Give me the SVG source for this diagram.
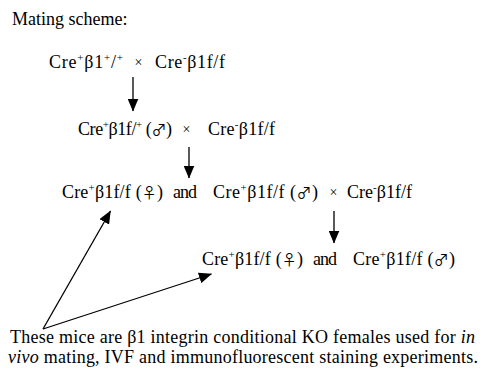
<svg xmlns="http://www.w3.org/2000/svg" width="481" height="377" viewBox="0 0 481 377">
  <defs>
    <style>
      .t{font-family:"Liberation Serif","Times New Roman",serif;font-size:18px;fill:#000}
      .x{font-family:"Liberation Serif","Times New Roman",serif;font-size:14px;fill:#000;text-anchor:middle}
      .sup{font-size:11px}
      .sym{font-family:"Noto Sans CJK JP","DejaVu Sans",sans-serif;font-size:15px}
      .conn line{stroke:#000;stroke-width:1.3;fill:none}
    </style>
    <marker id="head" viewBox="0 0 13 11" refX="12.5" refY="5.5" markerWidth="13" markerHeight="11" markerUnits="userSpaceOnUse" orient="auto">
      <path d="M0,0 L13,5.5 L0,11 z" fill="#000"/>
    </marker>
  </defs>
  <rect width="481" height="377" fill="#fff"/>

  <g id="title">
    <text class="t" x="12" y="25">Mating scheme:</text>
  </g>

  <!-- first cross -->
  <g id="gen1">
    <text class="t" x="49" y="68" textLength="74" lengthAdjust="spacing">Cre<tspan class="sup" dy="-7">+</tspan><tspan dy="7">β1</tspan><tspan class="sup" dy="-7">+</tspan><tspan dy="7">/</tspan><tspan class="sup" dy="-7">+</tspan></text>
    <text class="x" x="138.5" y="67">×</text>
    <text class="t" x="155" y="68" textLength="70" lengthAdjust="spacing">Cre<tspan class="sup" dy="-7">-</tspan><tspan dy="7">β1f/f</tspan></text>
  </g>

  <!-- second cross -->
  <g id="gen2">
    <text class="t" x="78" y="135" textLength="94" lengthAdjust="spacing">Cre<tspan class="sup" dy="-7">+</tspan><tspan dy="7">β1f/</tspan><tspan class="sup" dy="-7">+</tspan><tspan dy="7"> (</tspan><tspan class="sym">♂</tspan>)</text>
    <text class="x" x="186.5" y="134">×</text>
    <text class="t" x="208" y="135" textLength="67" lengthAdjust="spacing">Cre<tspan class="sup" dy="-7">-</tspan><tspan dy="7">β1f/f</tspan></text>
  </g>

  <!-- third cross -->
  <g id="gen3">
    <text class="t" x="62" y="198" textLength="101" lengthAdjust="spacing">Cre<tspan class="sup" dy="-7">+</tspan><tspan dy="7">β1f/f (</tspan><tspan class="sym">♀</tspan>)</text>
    <text class="t" x="173" y="198" textLength="24" lengthAdjust="spacing">and</text>
    <text class="t" x="213" y="198" textLength="105" lengthAdjust="spacing">Cre<tspan class="sup" dy="-7">+</tspan><tspan dy="7">β1f/f (</tspan><tspan class="sym">♂</tspan>)</text>
    <text class="x" x="333.5" y="197">×</text>
    <text class="t" x="347" y="198" textLength="65" lengthAdjust="spacing">Cre<tspan class="sup" dy="-7">-</tspan><tspan dy="7">β1f/f</tspan></text>
  </g>

  <!-- offspring -->
  <g id="gen4">
    <text class="t" x="202" y="265" textLength="101" lengthAdjust="spacing">Cre<tspan class="sup" dy="-7">+</tspan><tspan dy="7">β1f/f (</tspan><tspan class="sym">♀</tspan>)</text>
    <text class="t" x="313" y="265" textLength="24" lengthAdjust="spacing">and</text>
    <text class="t" x="353" y="265" textLength="102" lengthAdjust="spacing">Cre<tspan class="sup" dy="-7">+</tspan><tspan dy="7">β1f/f (</tspan><tspan class="sym">♂</tspan>)</text>
  </g>

  <g id="note">
    <text class="t" x="10" y="343" textLength="465" lengthAdjust="spacing">These mice are β1 integrin conditional KO females used for <tspan font-style="italic">in</tspan></text>
    <text class="t" x="8" y="363" textLength="470" lengthAdjust="spacing"><tspan font-style="italic">vivo</tspan> mating, IVF and immunofluorescent staining experiments.</text>
  </g>

  <g id="connectors" class="conn">
    <line x1="133" y1="77" x2="133" y2="111" marker-end="url(#head)"/>
    <line x1="189" y1="147" x2="189" y2="178" marker-end="url(#head)"/>
    <line x1="334" y1="211" x2="334" y2="243" marker-end="url(#head)"/>
    <line x1="43" y1="329" x2="110.5" y2="211" marker-end="url(#head)"/>
    <line x1="43" y1="329" x2="211.5" y2="274" marker-end="url(#head)"/>
  </g>
</svg>
